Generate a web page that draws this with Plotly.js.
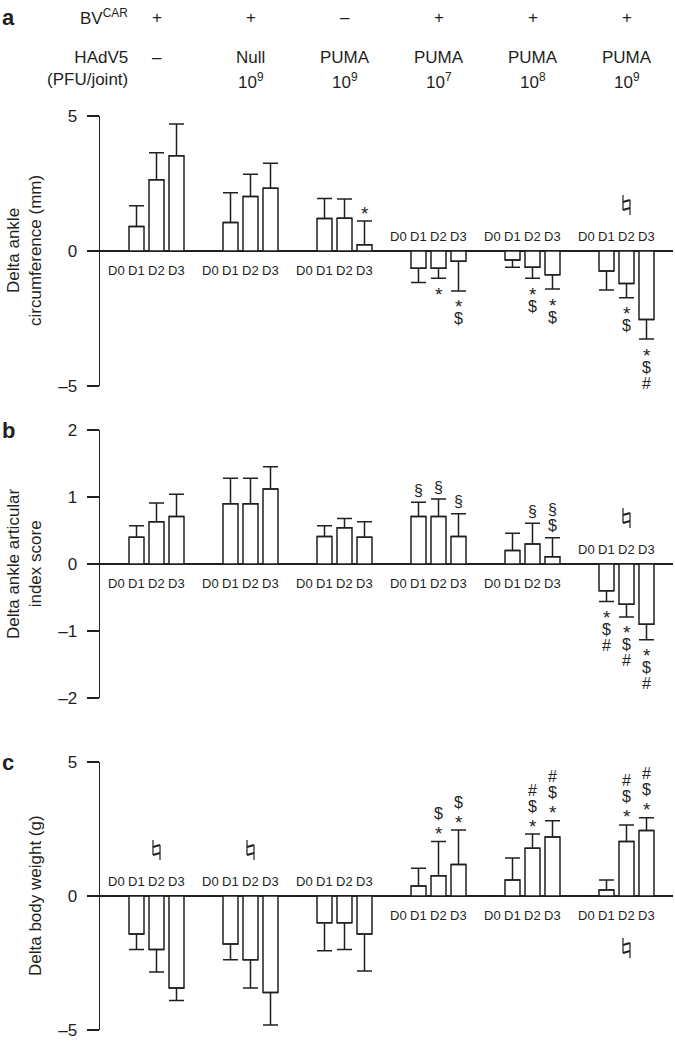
<!DOCTYPE html>
<html>
<head>
<meta charset="utf-8">
<script src="https://cdn.plot.ly/plotly-3.0.1.min.js"></script>
<style>body{margin:0;background:#fff}</style>
</head>
<body>
<div id="chart" style="width:675px;height:1042px"></div>
<script>
// group headers
var bvCar = ['+', '+', '\u2013', '+', '+', '+'];
var virus = ['\u2013', 'Null', 'PUMA', 'PUMA', 'PUMA', 'PUMA'];
var dose = ['', '10<sup>9</sup>', '10<sup>9</sup>', '10<sup>7</sup>', '10<sup>8</sup>', '10<sup>9</sup>'];
var days = ['D0', 'D1', 'D2', 'D3'];

// a: delta ankle circumference (mm), 6 groups x D0-D3
var ankleMean = [0, 0.91, 2.64, 3.53,  0, 1.06, 2.02, 2.32,  0, 1.20, 1.21, 0.23,
                 0, -0.64, -0.64, -0.38,  0, -0.33, -0.60, -0.88,  0, -0.74, -1.20, -2.54];
var ankleErr = [0, 0.77, 1.00, 1.17,  0, 1.10, 0.82, 0.93,  0, 0.74, 0.72, 0.88,
                0, 0.53, 0.37, 1.10,  0, 0.27, 0.41, 0.53,  0, 0.70, 0.53, 0.72];
var ankleSig = ['', '', '', '',  '', '', '', '',  '', '', '', '*',
                '', '', '*', '*$',  '', '', '*$', '*$',  '', '', '*$', '*$#'];
var ankleNat = [22];

// b: delta ankle articular index score
var articMean = [0, 0.40, 0.63, 0.71,  0, 0.90, 0.90, 1.12,  0, 0.41, 0.54, 0.40,
                 0, 0.71, 0.71, 0.41,  0, 0.20, 0.30, 0.11,  0, -0.40, -0.60, -0.90];
var articErr = [0, 0.17, 0.28, 0.33,  0, 0.38, 0.38, 0.33,  0, 0.16, 0.14, 0.23,
                0, 0.21, 0.26, 0.34,  0, 0.26, 0.31, 0.28,  0, 0.16, 0.19, 0.23];
var articSig = ['', '', '', '',  '', '', '', '',  '', '', '', '',
                '', '\u00a7', '\u00a7', '\u00a7',  '', '', '\u00a7', '$\u00a7',  '', '*$#', '*$#', '*$#'];
var articNat = [22];

// c: delta body weight (g)
var weightMean = [0, -1.42, -2.00, -3.43,  0, -1.79, -2.38, -3.60,  0, -1.00, -1.00, -1.42,
                  0, 0.37, 0.76, 1.18,  0, 0.60, 1.78, 2.20,  0, 0.22, 2.03, 2.44];
var weightErr = [0, 0.58, 0.84, 0.47,  0, 0.59, 1.05, 1.21,  0, 1.04, 1.00, 1.38,
                 0, 0.67, 1.27, 1.28,  0, 0.82, 0.53, 0.61,  0, 0.38, 0.62, 0.48];
var weightSig = ['', '', '', '',  '', '', '', '',  '', '', '', '',
                 '', '', '*$', '*$',  '', '', '*$#', '*$#',  '', '', '*$#', '*$#'];
var weightNat = [2, 6, 22];

var W = 675, H = 1042;
var INK = '#231f20';
var FONT = 'Liberation Sans, Arial, sans-serif';
function px(x) { return x / W; }
function py(y) { return 1 - y / H; }

// bar slots: 20px each, groups 94px apart
var xpos = [];
for (var g = 0; g < 6; g++) for (var d = 0; d < 4; d++) xpos.push(g * 4.7 + d);

var panels = [
  {mean: ankleMean, err: ankleErr, sig: ankleSig, nat: ankleNat, ax: 'y', letter: 'a',
   top: 116, bot: 386, range: [-5, 5], ticks: [-5, 0, 5],
   title: 'Delta ankle<br>circumference (mm)', tx: 24},
  {mean: articMean, err: articErr, sig: articSig, nat: articNat, ax: 'y2', letter: 'b',
   top: 430, bot: 698, range: [-2, 2], ticks: [-2, -1, 0, 1, 2],
   title: 'Delta ankle articular<br>index score', tx: 24},
  {mean: weightMean, err: weightErr, sig: weightSig, nat: weightNat, ax: 'y3', letter: 'c',
   top: 762, bot: 1030, range: [-5, 5], ticks: [-5, 0, 5],
   title: 'Delta body weight (g)', tx: 35}
];

var data = [];
var ann = [];
var shapes = [];
var layout = {
  width: W, height: H,
  margin: {l: 0, r: 0, t: 0, b: 0},
  paper_bgcolor: 'white', plot_bgcolor: 'white',
  showlegend: false,
  font: {family: FONT, color: INK, size: 17},
  xaxis: {domain: [px(100), px(673)], range: [-0.825, 27.825], visible: false, fixedrange: true}
};

function txt(o) {
  var a = {showarrow: false, font: {family: FONT, color: INK, size: o.size || 17}};
  for (var k in o) if (k != 'size') a[k] = o[k];
  return a;
}

// natural sign drawn as a small pixel-sized glyph next to a bar
function natural(x, yref, cy) {
  var stems = 'M-3.5,' + (cy + 10) + 'V' + (cy - 5) + 'M3.5,' + (cy + 5) + 'V' + (cy - 10);
  var bars = 'M-3.5,' + (cy + 3) + 'L3.5,' + (cy + 5) + 'M-3.5,' + (cy - 5) + 'L3.5,' + (cy - 3);
  [[stems, 1.2], [bars, 2.1]].forEach(function (s) {
    shapes.push({type: 'path', xref: 'x', yref: yref, xsizemode: 'pixel', ysizemode: 'pixel',
      xanchor: x, yanchor: 0, path: s[0], line: {color: INK, width: s[1]}});
  });
}

panels.forEach(function (p, n) {
  var axName = n == 0 ? 'yaxis' : 'yaxis' + (n + 1);
  layout[axName] = {
    domain: [py(p.bot), py(p.top)], range: p.range, anchor: 'x',
    tickvals: p.ticks,
    ticktext: p.ticks.map(function (t) { return String(t).replace('-', '\u2013'); }),
    ticks: 'outside', ticklen: 12, tickwidth: 1.5, tickcolor: INK,
    ticklabelstandoff: 6,
    showline: true, linecolor: INK, linewidth: 1.5,
    showgrid: false, zeroline: true, zerolinecolor: INK, zerolinewidth: 1.5,
    tickfont: {family: FONT, size: 17, color: INK}, fixedrange: true
  };

  data.push({
    type: 'bar', x: xpos, y: p.mean, xaxis: 'x', yaxis: p.ax, width: 0.75,
    marker: {color: 'white', line: {color: INK, width: 1.5}},
    error_y: {
      type: 'data', symmetric: false,
      array: p.mean.map(function (v, i) { return v >= 0 ? p.err[i] : 0; }),
      arrayminus: p.mean.map(function (v, i) { return v < 0 ? p.err[i] : 0; }),
      color: INK, thickness: 1.5, width: 7.5
    },
    hoverinfo: 'skip'
  });

  // which groups sit below zero
  var neg = [];
  for (var g = 0; g < 6; g++) {
    var s = 0;
    for (var d = 0; d < 4; d++) s += p.mean[g * 4 + d];
    neg.push(s < 0);
  }

  // day labels on the side away from the bars
  xpos.forEach(function (x, i) {
    var down = neg[Math.floor(i / 4)];
    ann.push(txt({x: x, y: 0, xref: 'x', yref: p.ax, text: days[i % 4], size: 13,
      yanchor: 'middle', yshift: down ? 15 : -19}));
  });

  // significance marks stacked past the error bar
  p.sig.forEach(function (s, i) {
    if (!s) return;
    var up = p.mean[i] >= 0;
    var end = up ? p.mean[i] + p.err[i] : p.mean[i] - p.err[i];
    Array.from(s).forEach(function (ch, k) {
      var off = 12 + 16 * k;
      var star = ch == '*';
      if (star) off += up ? -4 : 4;
      ann.push(txt({x: xpos[i], y: end, xref: 'x', yref: p.ax, text: ch, size: star ? 19 : 16,
        yanchor: 'middle', yshift: up ? off : -off}));
    });
  });

  p.nat.forEach(function (i) {
    var down = neg[Math.floor(i / 4)];
    natural(xpos[i], p.ax, down ? 46 : -52);
  });

  ann.push(txt({x: px(p.tx), y: py((p.top + p.bot) / 2), xref: 'paper', yref: 'paper',
    text: p.title, textangle: -90, xanchor: 'center', yanchor: 'middle'}));
  ann.push(txt({x: px(0), y: py(p.top + (n == 0 ? -99 : 0)), xref: 'paper', yref: 'paper',
    text: '<b>' + p.letter + '</b>', size: 22, xanchor: 'left', yanchor: 'middle'}));
});

// header rows
ann.push(txt({x: px(130), y: py(17), xref: 'paper', yref: 'paper', text: 'BV<sup>CAR</sup>',
  xanchor: 'right', yanchor: 'middle'}));
ann.push(txt({x: px(130), y: py(69), xref: 'paper', yref: 'paper', text: 'HAdV5<br>(PFU/joint)',
  xanchor: 'right', yanchor: 'middle', align: 'right'}));
for (var g = 0; g < 6; g++) {
  var cx = xpos[g * 4 + 2];
  ann.push(txt({x: cx, y: py(17), xref: 'x', yref: 'paper', text: bvCar[g], yanchor: 'middle'}));
  ann.push(txt({x: cx, y: py(58), xref: 'x', yref: 'paper', text: virus[g], yanchor: 'middle'}));
  if (dose[g]) ann.push(txt({x: cx, y: py(81), xref: 'x', yref: 'paper', text: dose[g], yanchor: 'middle'}));
}

layout.annotations = ann;
layout.shapes = shapes;
Plotly.newPlot('chart', data, layout, {staticPlot: true});
</script>
</body>
</html>
